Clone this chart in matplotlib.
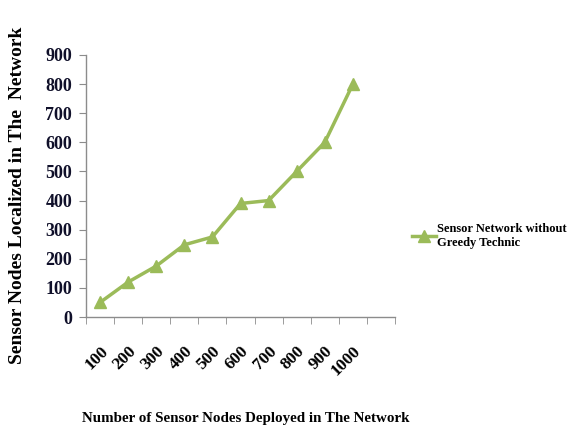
import numpy as np
import matplotlib
matplotlib.use('Agg')
import matplotlib.pyplot as plt

# datos
nodos = ['100', '200', '300', '400', '500', '600', '700', '800', '900', '1000']
localizados = [50, 120, 175, 248, 275, 390, 400, 500, 600, 800]
serie_label = 'Sensor Network without\nGreedy Technic'

verde = '#9BBB59'
gris = '#8C8C8C'

plt.rcParams['font.family'] = 'Liberation Serif'
plt.rcParams['font.weight'] = 'bold'

fig = plt.figure(figsize=(5.71, 4.32), dpi=100)
ax = fig.add_axes([0.1506, 0.2662, 0.5412, 0.6065])

x = np.arange(len(nodos))
ax.plot(x, localizados, color=verde, linewidth=2.5, marker='^', markersize=8,
        label=serie_label)

ax.set_xlim(-0.5, len(nodos) + 0.5)
ax.set_ylim(0, 900)
ax.set_yticks(np.arange(0, 901, 100))

# etiquetas centradas, marcas en los limites de categoria
ax.set_xticks(x)
ax.set_xticklabels(nodos, rotation=45, ha='right', rotation_mode='anchor',
                   fontsize=12.5, fontweight='bold')
ax.set_xticks(np.arange(-0.5, len(nodos) + 1, 1), minor=True)
ax.tick_params(axis='x', which='major', length=0, pad=19)
ax.tick_params(axis='x', which='minor', length=5, color=gris, direction='out')
ax.tick_params(axis='y', length=5, color=gris, direction='out', labelsize=13,
               pad=5)
for lab in ax.get_yticklabels():
    lab.set_fontweight('bold')
    lab.set_color('#10102a')

for s in ['top', 'right']:
    ax.spines[s].set_visible(False)
for s in ['left', 'bottom']:
    ax.spines[s].set_color(gris)
    ax.spines[s].set_linewidth(1.0)

fig.text(18 / 571, 1 - 195 / 432, 'Sensor Nodes Localized in The  Network',
         rotation=90, ha='center', va='center', fontsize=14, fontweight='bold')
fig.text(0.43, 0.032, 'Number of Sensor Nodes Deployed in The Network',
         ha='center', va='center', fontsize=10.8, fontweight='bold')

ax.legend(loc='center left', bbox_to_anchor=(1.02, 0.31), frameon=False,
          handlelength=1.9, handletextpad=0.1,
          prop={'weight': 'bold', 'size': 9})

plt.savefig('out.png', dpi=100)
